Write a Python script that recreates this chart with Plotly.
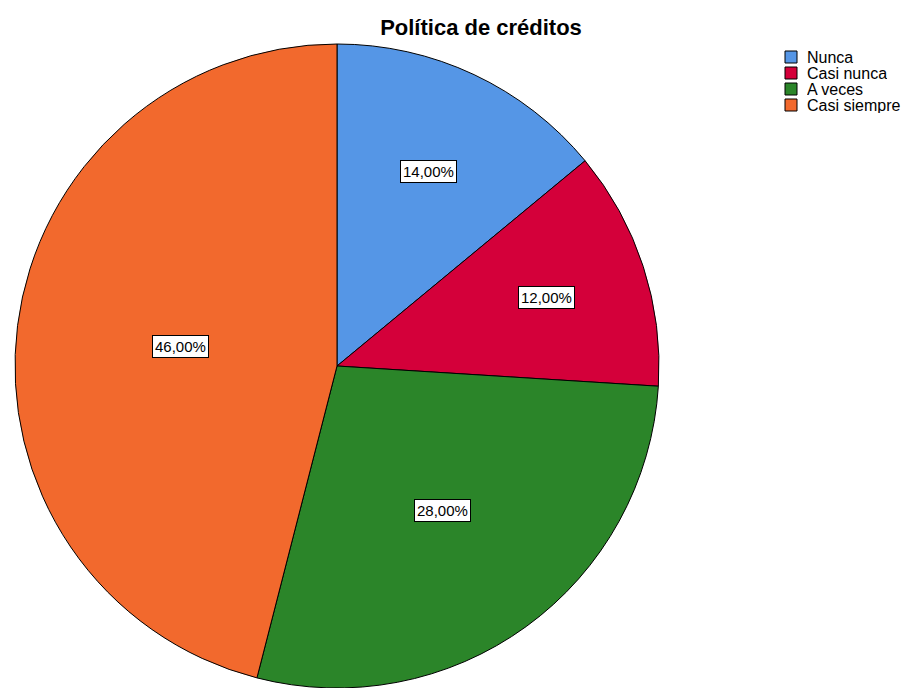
import math
import plotly.graph_objects as go

# Data
categories = ["Nunca", "Casi nunca", "A veces", "Casi siempre"]
percentages = [14.0, 12.0, 28.0, 46.0]
colors = ["#5596E6", "#D4003A", "#2B8529", "#F2692D"]

W, H = 915, 688
M_TOP, M_BOT, M_LEFT, M_RIGHT = 44, 0, 0, 0
plot_h = H - M_TOP - M_BOT
plot_w = W - M_LEFT - M_RIGHT
radius_px = plot_h / 2.0
cx_px = 337.0
cy_px = M_TOP + radius_px

FONT = "Liberation Sans, Arial, sans-serif"


def to_paper(px, py):
    return (px - M_LEFT) / plot_w, (H - M_BOT - py) / plot_h


dom_x = [(cx_px - radius_px) / plot_w, (cx_px + radius_px) / plot_w]

fig = go.Figure(
    go.Pie(
        labels=categories,
        values=percentages,
        sort=False,
        direction="clockwise",
        rotation=0,
        marker=dict(colors=colors, line=dict(color="black", width=1)),
        textinfo="none",
        hoverinfo="label+percent",
        domain=dict(x=dom_x, y=[0, 1]),
        showlegend=False,
    )
)


def fmt(v):
    return f"{v:.2f}".replace(".", ",") + "%"


# Percentage labels inside each slice, pulled outward for narrow slices
total = sum(percentages)
cum = 0.0
annotations = []
for v in percentages:
    frac = v / total
    mid = 2 * math.pi * (cum + frac / 2)
    cum += frac
    r = max(0.49, 0.78 - 0.8 * frac)
    px = cx_px + r * radius_px * math.sin(mid)
    py = cy_px - r * radius_px * math.cos(mid)
    x, y = to_paper(px, py)
    annotations.append(
        dict(
            x=x, y=y, xref="paper", yref="paper",
            xanchor="center", yanchor="middle",
            text=fmt(v), showarrow=False,
            font=dict(family=FONT, size=15, color="black"),
            bgcolor="white", bordercolor="black", borderwidth=1, borderpad=2,
        )
    )

# Legend: colour swatch + category name per row
shapes = []
LEG_X, LEG_Y0, LEG_STEP, SW = 785, 57, 16, 12
for i, (name, col) in enumerate(zip(categories, colors)):
    yc = LEG_Y0 + i * LEG_STEP
    x0, y0 = to_paper(LEG_X, yc + SW / 2)
    x1, y1 = to_paper(LEG_X + SW, yc - SW / 2)
    shapes.append(dict(type="rect", xref="paper", yref="paper",
                       x0=x0, y0=y0, x1=x1, y1=y1,
                       fillcolor=col, line=dict(color="black", width=1)))
    tx, ty = to_paper(LEG_X + SW + 9, yc)
    annotations.append(dict(x=tx, y=ty, xref="paper", yref="paper",
                            text=name, showarrow=False, xanchor="left",
                            yanchor="middle", height=LEG_STEP, borderpad=0,
                            font=dict(family=FONT, size=16, color="black")))

fig.update_layout(
    width=W,
    height=H,
    margin=dict(l=M_LEFT, r=M_RIGHT, t=M_TOP, b=M_BOT),
    paper_bgcolor="white",
    plot_bgcolor="white",
    title=dict(
        text="<b>Política de créditos</b>",
        x=481 / W, xanchor="center", xref="container",
        y=1 - 27 / H, yref="container", yanchor="middle",
        font=dict(family=FONT, size=22, color="black"),
    ),
    annotations=annotations,
    shapes=shapes,
)

fig.write_html("out.html")
